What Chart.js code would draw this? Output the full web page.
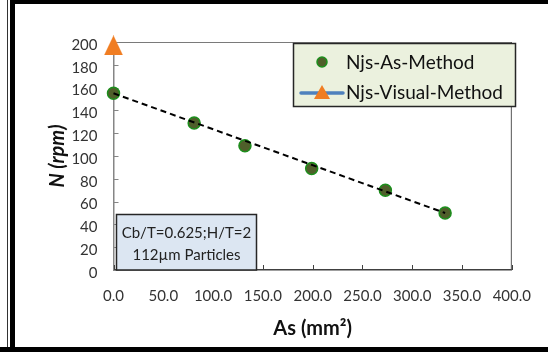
<!DOCTYPE html>
<html><head><meta charset="utf-8">
<script src="https://cdn.jsdelivr.net/npm/chart.js@4.4.1/dist/chart.umd.min.js"></script>
<style>html,body{margin:0;padding:0;background:#fff;overflow:hidden}canvas{display:block}</style>
</head><body>
<canvas id="c" width="548" height="354"></canvas>
<script>
// ---- data ----
const asX = [0, 81, 132, 199, 273, 333];
const asN = [155, 129, 109, 89, 70, 50];
const visX = [0];
const visN = [197];
const trendX = [0, 333];
const trendN = [155, 50];
const xTicks = [0, 50, 100, 150, 200, 250, 300, 350, 400];
const yTicks = [0, 20, 40, 60, 80, 100, 120, 140, 160, 180, 200];
const seriesNames = ['Njs-As-Method', 'Njs-Visual-Method'];
const noteLines = ['Cb/T=0.625;H/T=2', '112\u00b5m Particles'];
const xTitle = 'As (mm\u00b2)';
const yTitle = 'N (rpm)';

const FONT = 'Lato';
const GREEN_FILL = '#4F5F2A', GREEN_EDGE = '#1C8F1C';
const ORANGE = '#F07D22', BLUE = '#4F81BD';

function triCanvas(w, h, color) {
  const c = document.createElement('canvas'); c.width = w; c.height = h;
  const g = c.getContext('2d'); g.fillStyle = color;
  g.beginPath(); g.moveTo(w / 2, 0); g.lineTo(w, h); g.lineTo(0, h); g.closePath(); g.fill();
  return c;
}

const decor = {
  id: 'decor',
  beforeDatasetsDraw(chart) {
    const {ctx, chartArea: a, scales: {x, y}} = chart;
    ctx.save();
    ctx.lineWidth = 1;
    ctx.strokeStyle = '#7a7a7a';
    ctx.beginPath(); ctx.moveTo(a.left, a.top + 0.5); ctx.lineTo(a.right, a.top + 0.5); ctx.stroke();
    ctx.strokeStyle = '#555';
    ctx.beginPath(); ctx.moveTo(a.right - 0.5, a.top); ctx.lineTo(a.right - 0.5, a.bottom); ctx.stroke();
    ctx.strokeStyle = '#868686';
    yTicks.forEach(v => { const py = Math.round(y.getPixelForValue(v)) + 0.5;
      ctx.beginPath(); ctx.moveTo(a.left, py); ctx.lineTo(a.left + 5, py); ctx.stroke(); });
    ctx.strokeStyle = '#404040';
    xTicks.forEach(v => { const px = Math.round(x.getPixelForValue(v)) + 0.5;
      ctx.beginPath(); ctx.moveTo(px, a.bottom); ctx.lineTo(px, a.bottom - 5); ctx.stroke(); });
    ctx.restore();
  },
  afterDraw(chart) {
    const {ctx} = chart;
    const ds = chart.data.datasets;
    ctx.save();
    const lx = 293.5, ly = 43.5, lw = 222, lh = 63;
    ctx.fillStyle = '#EBF1DE'; ctx.fillRect(lx, ly, lw, lh);
    ctx.strokeStyle = '#262626'; ctx.lineWidth = 1.5; ctx.strokeRect(lx, ly, lw, lh);
    ctx.font = '19px ' + FONT; ctx.fillStyle = '#111'; ctx.textBaseline = 'middle'; ctx.textAlign = 'left';
    ctx.beginPath(); ctx.arc(322, 62, 5, 0, Math.PI * 2);
    ctx.fillStyle = GREEN_FILL; ctx.fill(); ctx.strokeStyle = GREEN_EDGE; ctx.lineWidth = 1.5; ctx.stroke();
    ctx.fillStyle = '#111'; ctx.fillText(ds[1].label, 346, 62.5);
    ctx.strokeStyle = BLUE; ctx.lineWidth = 3.5; ctx.lineCap = 'round';
    ctx.beginPath(); ctx.moveTo(301, 93); ctx.lineTo(343, 93); ctx.stroke();
    ctx.fillStyle = ORANGE; ctx.beginPath(); ctx.moveTo(322, 85); ctx.lineTo(330, 99); ctx.lineTo(314, 99); ctx.closePath(); ctx.fill();
    ctx.fillStyle = '#111'; ctx.fillText(ds[2].label, 346, 93);
    const bx = 116.5, by = 214.5, bw = 140, bh = 55.5;
    ctx.fillStyle = '#DCE6F2'; ctx.fillRect(bx, by, bw, bh);
    ctx.strokeStyle = '#262626'; ctx.lineWidth = 1.5; ctx.strokeRect(bx, by, bw, bh);
    ctx.font = '15px ' + FONT; ctx.fillStyle = '#222'; ctx.textAlign = 'center';
    ctx.fillText(noteLines[0], bx + bw / 2, 233.5);
    ctx.fillText(noteLines[1], bx + bw / 2, 255);
    ctx.fillStyle = '#000';
    ctx.fillRect(10, 0, 538, 4);
    ctx.fillRect(10, 0, 5, 352);
    ctx.fillRect(0, 347, 548, 5);
    ctx.fillStyle = '#333'; ctx.fillRect(7, 0, 1, 347);
    ctx.restore();
  }
};

function build() {
  new Chart(document.getElementById('c'), {
    type: 'scatter',
    data: {
      datasets: [
        { label: 'trend', type: 'line', data: trendX.map((v, i) => ({x: v, y: trendN[i]})),
          borderColor: '#000', borderWidth: 2, borderDash: [6, 4], pointRadius: 0, fill: false, clip: false },
        { label: seriesNames[0], data: asX.map((v, i) => ({x: v, y: asN[i]})),
          pointRadius: 6, pointBackgroundColor: GREEN_FILL, pointBorderColor: GREEN_EDGE, pointBorderWidth: 1.5, clip: false },
        { label: seriesNames[1], data: visX.map((v, i) => ({x: v, y: visN[i]})),
          pointStyle: triCanvas(19, 20, ORANGE), pointRadius: 10, borderColor: BLUE, backgroundColor: ORANGE, showLine: false, clip: false }
      ]
    },
    options: {
      responsive: false, animation: false, events: [],
      layout: { padding: { left: 0, top: 42, right: 34, bottom: 0 } },
      plugins: { legend: { display: false }, tooltip: { enabled: false } },
      scales: {
        x: {
          type: 'linear', min: 0, max: 400,
          afterBuildTicks: s => { s.ticks = xTicks.map(v => ({value: v})); },
          afterFit: s => { s.height = 84; },
          ticks: { callback: v => Number(v).toFixed(1), font: {family: FONT, size: 15}, color: '#333', padding: 17, maxRotation: 0, autoSkip: false },
          grid: { display: true, drawOnChartArea: false, drawTicks: false },
          border: { color: '#404040', width: 1.5 },
          title: { display: true, text: xTitle, font: {family: FONT, size: 20, weight: 'bold'}, color: '#111', padding: {top: 0, bottom: 13} }
        },
        y: {
          type: 'linear', min: 0, max: 200,
          afterBuildTicks: s => { s.ticks = yTicks.map(v => ({value: v})); },
          afterFit: s => { s.width = 113.5; },
          ticks: { font: {family: FONT, size: 15}, color: '#333', padding: 16, labelOffset: 3, autoSkip: false },
          grid: { display: true, drawOnChartArea: false, drawTicks: false },
          border: { color: '#868686', width: 1.5 },
          title: { display: true, text: yTitle, font: {family: FONT, size: 20, weight: 'bold', style: 'italic'}, color: '#111', padding: {top: 46, bottom: 0} }
        }
      }
    },
    plugins: [decor]
  });
}
if (document.fonts && document.fonts.load) {
  Promise.all([document.fonts.load('15px Lato'), document.fonts.load('bold 20px Lato'), document.fonts.load('italic bold 20px Lato')]).then(build, build);
} else build();
</script>
</body></html>
